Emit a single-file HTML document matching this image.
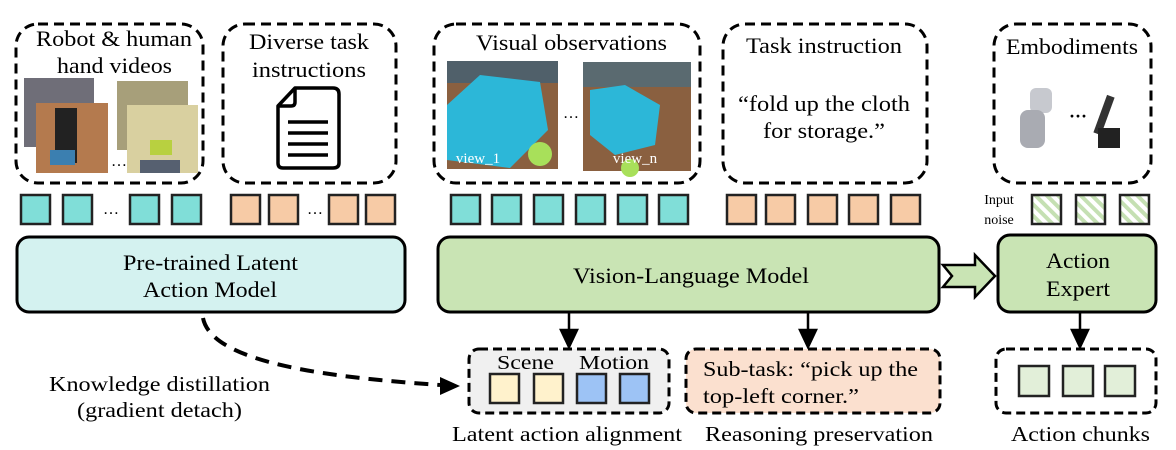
<!DOCTYPE html>
<html><head><meta charset="utf-8"><style>
html,body{margin:0;padding:0;background:#fff;width:1176px;height:450px;overflow:hidden}
svg{display:block}
text{font-family:"Liberation Serif",serif;fill:#000}
</style></head><body>
<svg width="1176" height="450" viewBox="0 0 1176 450">
<defs>
<pattern id="hatch" width="8" height="8" patternUnits="userSpaceOnUse" patternTransform="rotate(-45)">
<rect width="8" height="8" fill="#fff"/><rect width="4" height="8" fill="#c5e0b3"/></pattern>
</defs>
<g fill="none" stroke="#000" stroke-width="3" stroke-dasharray="10,6">
<rect x="16" y="24" width="187" height="159" rx="22"/>
<rect x="223" y="24" width="173" height="159" rx="22"/>
<rect x="434" y="24" width="266" height="159" rx="22"/>
<rect x="723" y="24" width="204" height="159" rx="22"/>
<rect x="994" y="24" width="157" height="159" rx="22"/>
</g>
<g font-size="22" lengthAdjust="spacingAndGlyphs">
<text x="36" y="46" textLength="156" lengthAdjust="spacingAndGlyphs">Robot &amp; human</text>
<text x="57" y="73" textLength="115" lengthAdjust="spacingAndGlyphs">hand videos</text>
<text x="249" y="49" textLength="120" lengthAdjust="spacingAndGlyphs">Diverse task</text>
<text x="252" y="77" textLength="114" lengthAdjust="spacingAndGlyphs">instructions</text>
<text x="476" y="50" textLength="191" lengthAdjust="spacingAndGlyphs">Visual observations</text>
<text x="746" y="53" textLength="156" lengthAdjust="spacingAndGlyphs">Task instruction</text>
<text x="738" y="111" textLength="172" lengthAdjust="spacingAndGlyphs">“fold up the cloth</text>
<text x="763" y="138" textLength="122" lengthAdjust="spacingAndGlyphs">for storage.”</text>
<text x="1006" y="54" textLength="132" lengthAdjust="spacingAndGlyphs">Embodiments</text>
</g>
<!-- video images -->
<rect x="24" y="78" width="70" height="69" fill="#6f6e78"/>
<rect x="36" y="103" width="72" height="70" fill="#b47a4e"/>
<rect x="55" y="108" width="22" height="55" fill="#222"/>
<rect x="50" y="150" width="25" height="15" fill="#3b7fb0"/>
<rect x="117" y="81" width="71" height="69" fill="#a79f7a"/>
<rect x="127" y="105" width="71" height="68" fill="#d9d0a0"/>
<rect x="150" y="140" width="22" height="15" fill="#b8d040"/>
<rect x="140" y="160" width="40" height="13" fill="#566070"/>
<text x="111" y="166" font-size="16">…</text>
<!-- doc icon -->
<g fill="none" stroke="#000" stroke-width="3.5" stroke-linejoin="round">
<path d="M295,88 L333,88 Q339,88 339,94 L339,163 Q339,168 333,168 L283,168 Q278,168 278,163 L278,106 Z"/>
<path d="M295,88 L295,102 Q295,106 291,106 L278,106"/>
<path d="M288,122 L328,122 M288,133 L328,133 M288,144 L328,144 M288,155 L328,155"/>
</g>
<!-- visual obs -->
<rect x="447" y="61" width="111" height="108" fill="#8a6040"/>
<rect x="447" y="61" width="111" height="22" fill="#50606a"/>
<polygon points="447,105 480,75 540,82 548,130 510,168 447,160" fill="#2cb7d8"/>
<circle cx="540" cy="154" r="12" fill="#a8e05a"/>
<text x="478" y="163" font-size="15" text-anchor="middle" style="fill:#fff">view_1</text>
<rect x="583" y="62" width="108" height="109" fill="#8a6040"/>
<rect x="583" y="62" width="108" height="25" fill="#5a6a70"/>
<polygon points="590,90 625,85 660,105 655,145 615,155 590,135" fill="#2cb7d8"/>
<circle cx="630" cy="168" r="9" fill="#a8e05a"/>
<text x="635" y="163" font-size="15" text-anchor="middle" style="fill:#fff">view_n</text>
<text x="563" y="118" font-size="16">…</text>
<!-- robots -->
<rect x="1030" y="88" width="22" height="25" rx="6" fill="#c7c9cf"/>
<rect x="1020" y="110" width="25" height="38" rx="8" fill="#a9abb2"/>
<rect x="1100" y="95" width="8" height="40" fill="#333" transform="rotate(20 1104 115)"/>
<rect x="1098" y="128" width="22" height="20" fill="#222"/>
<text x="1069" y="122" font-size="18" font-weight="bold">···</text>
<!-- tokens -->
<g stroke="#222" stroke-width="2.5">
<g fill="#80ded8">
<rect x="21" y="195" width="29" height="29"/><rect x="63" y="195" width="29" height="29"/>
<rect x="130" y="195" width="29" height="29"/><rect x="172" y="195" width="29" height="29"/>
<rect x="451" y="195" width="29" height="29"/><rect x="492" y="195" width="29" height="29"/>
<rect x="534" y="195" width="29" height="29"/><rect x="576" y="195" width="29" height="29"/>
<rect x="618" y="195" width="29" height="29"/><rect x="659" y="195" width="29" height="29"/>
</g>
<g fill="#f7cba6">
<rect x="231" y="195" width="29" height="29"/><rect x="269" y="195" width="29" height="29"/>
<rect x="329" y="195" width="29" height="29"/><rect x="366" y="195" width="29" height="29"/>
<rect x="727" y="195" width="29" height="29"/><rect x="766" y="195" width="29" height="29"/>
<rect x="808" y="195" width="29" height="29"/><rect x="849" y="195" width="29" height="29"/>
<rect x="891" y="195" width="29" height="29"/>
</g>
<g fill="url(#hatch)">
<rect x="1032" y="195" width="29" height="29"/><rect x="1076" y="195" width="29" height="29"/>
<rect x="1120" y="195" width="29" height="29"/>
</g>
</g>
<text x="103" y="214" font-size="16">…</text>
<text x="307" y="214" font-size="16">…</text>
<text x="999" y="204" font-size="14" text-anchor="middle">Input</text>
<text x="999" y="224" font-size="14" text-anchor="middle">noise</text>
<!-- main boxes -->
<rect x="17" y="237" width="388" height="75" rx="12" fill="#d4f2f0" stroke="#000" stroke-width="3"/>
<text x="123" y="270" font-size="22" textLength="175" lengthAdjust="spacingAndGlyphs">Pre-trained Latent</text>
<text x="143" y="297" font-size="22" textLength="134" lengthAdjust="spacingAndGlyphs">Action Model</text>
<rect x="438" y="237" width="501" height="75" rx="12" fill="#c9e4b4" stroke="#000" stroke-width="3"/>
<text x="573" y="283" font-size="22" textLength="236" lengthAdjust="spacingAndGlyphs">Vision-Language Model</text>
<rect x="998" y="235" width="158" height="77" rx="12" fill="#c9e4b4" stroke="#000" stroke-width="3"/>
<text x="1046" y="268" font-size="22" textLength="64" lengthAdjust="spacingAndGlyphs">Action</text>
<text x="1046" y="296" font-size="22" textLength="64" lengthAdjust="spacingAndGlyphs">Expert</text>
<path d="M943,265 L975,265 L975,255 L995,276 L975,297 L975,287 L943,287 L952,276 Z" fill="#c9e4b4" stroke="#000" stroke-width="2.5"/>
<!-- down arrows -->
<g stroke="#000" stroke-width="2.5" fill="#000">
<line x1="569" y1="312" x2="569" y2="332"/><path d="M561,330 L577,330 L569,347 Z"/>
<line x1="808" y1="312" x2="808" y2="332"/><path d="M800,330 L816,330 L808,347 Z"/>
<line x1="1080" y1="312" x2="1080" y2="332"/><path d="M1072,330 L1088,330 L1080,347 Z"/>
</g>
<!-- bottom boxes -->
<g stroke="#000" stroke-width="3" stroke-dasharray="9,5">
<rect x="469" y="349" width="200" height="64" rx="10" fill="#f0f0f0"/>
<rect x="686" y="349" width="254" height="64" rx="10" fill="#fbe0cf"/>
<rect x="996" y="349" width="160" height="64" rx="10" fill="#fff"/>
</g>
<text x="497" y="369" font-size="20" textLength="57" lengthAdjust="spacingAndGlyphs">Scene</text>
<text x="579" y="369" font-size="20" textLength="70" lengthAdjust="spacingAndGlyphs">Motion</text>
<g stroke="#222" stroke-width="2.5">
<rect x="490" y="374" width="29" height="29" fill="#fff2cc"/><rect x="534" y="374" width="29" height="29" fill="#fff2cc"/>
<rect x="577" y="374" width="29" height="29" fill="#9dc3f5"/><rect x="620" y="374" width="29" height="29" fill="#9dc3f5"/>
</g>
<text x="703" y="376" font-size="21" textLength="215" lengthAdjust="spacingAndGlyphs">Sub-task: “pick up the</text>
<text x="703" y="403" font-size="21" textLength="156" lengthAdjust="spacingAndGlyphs">top-left corner.”</text>
<g stroke="#222" stroke-width="2.5" fill="#e2efd9">
<rect x="1019" y="366" width="30" height="30"/><rect x="1063" y="366" width="30" height="30"/><rect x="1105" y="366" width="30" height="30"/>
</g>
<g font-size="21">
<text x="452" y="441" textLength="230" lengthAdjust="spacingAndGlyphs">Latent action alignment</text>
<text x="705" y="441" textLength="228" lengthAdjust="spacingAndGlyphs">Reasoning preservation</text>
<text x="1011" y="441" textLength="139" lengthAdjust="spacingAndGlyphs">Action chunks</text>
<text x="49" y="391" textLength="221" lengthAdjust="spacingAndGlyphs">Knowledge distillation</text>
<text x="77" y="417" textLength="165" lengthAdjust="spacingAndGlyphs">(gradient detach)</text>
</g>
<path d="M203,318 C212,365 340,378 440,385" fill="none" stroke="#000" stroke-width="4" stroke-dasharray="14,9"/>
<path d="M440,377 L460,386 L440,395 Z" fill="#000"/>
</svg>
</body></html>
